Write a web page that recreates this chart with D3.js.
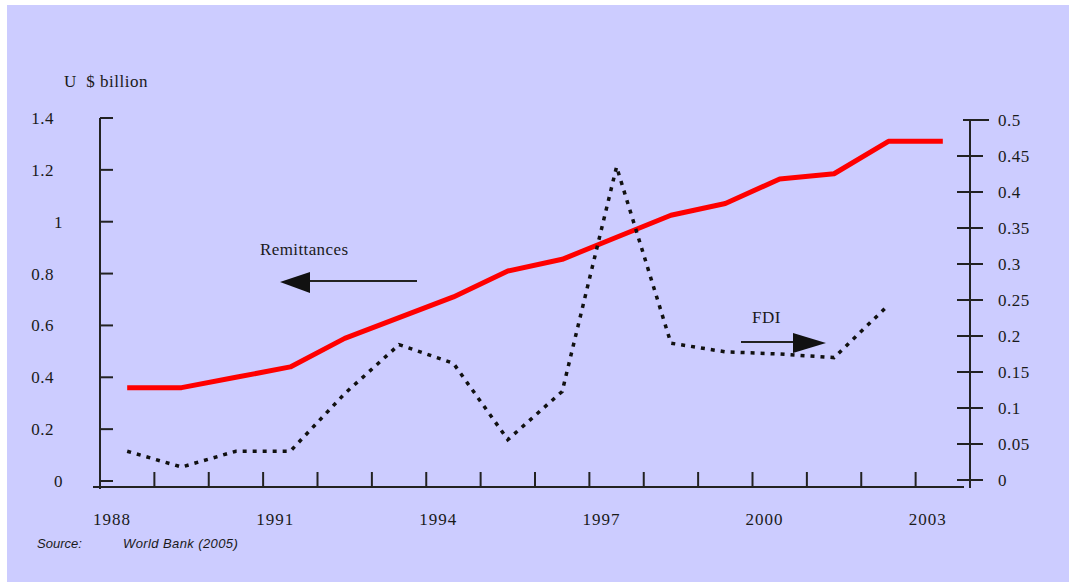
<!DOCTYPE html>
<html>
<head>
<meta charset="utf-8">
<script src="https://cdn.jsdelivr.net/npm/d3@7"></script>
<style>
  body { margin: 0; background: #fff; }
  text { font-family: "Liberation Serif", "Times New Roman", serif; fill: #1a1a1a; white-space: pre; }
  .src { font-family: "Liberation Sans", Arial, sans-serif; font-style: italic; font-size: 13px; }
</style>
</head>
<body>
<div id="chart"></div>
<script>
// data
var years = ["1988", "1989", "1990", "1991", "1992", "1993", "1994", "1995",
             "1996", "1997", "1998", "1999", "2000", "2001", "2002", "2003"];
var remittances = [0.36, 0.36, 0.40, 0.44, 0.55, 0.63, 0.71, 0.81,
                   0.855, 0.94, 1.025, 1.07, 1.165, 1.185, 1.31, 1.31];
var fdi = [0.04, 0.018, 0.04, 0.04, 0.12, 0.188, 0.162, 0.056,
           0.123, 0.435, 0.19, 0.178, 0.175, 0.17, 0.243, null];
var leftTicks = [0, 0.2, 0.4, 0.6, 0.8, 1, 1.2, 1.4];
var rightTicks = [0, 0.05, 0.1, 0.15, 0.2, 0.25, 0.3, 0.35, 0.4, 0.45, 0.5];
var yearLabels = ["1988", "1991", "1994", "1997", "2000", "2003"];

var width = 1069, height = 582;
var left = 100, right = 970;

var svg = d3.select("#chart").append("svg")
    .attr("width", width)
    .attr("height", height);

svg.append("rect")
    .attr("x", 7).attr("y", 5)
    .attr("width", width - 7).attr("height", height - 5)
    .attr("fill", "#ccccff");

/* Scales */
var xScale = d3.scaleBand().domain(years).range([left, right]).padding(0);
var yLeft = d3.scaleLinear().domain([0, 1.4]).range([481, 118]);
var yRight = d3.scaleLinear().domain([0, 0.5]).range([480, 120]);
var cx = d => xScale(d) + xScale.bandwidth() / 2;

var axisColor = "#222";

/* left axis */
svg.append("line")
    .attr("x1", left).attr("x2", left)
    .attr("y1", yLeft(1.4)).attr("y2", 489)
    .attr("stroke", axisColor).attr("stroke-width", 2);

svg.selectAll(".ltick").data(leftTicks).enter()
    .append("line")
    .attr("x1", left).attr("x2", left + 13)
    .attr("y1", d => yLeft(d)).attr("y2", d => yLeft(d))
    .attr("stroke", axisColor).attr("stroke-width", 2);

svg.selectAll(".llab").data(leftTicks).enter()
    .append("text")
    .attr("x", d => Number.isInteger(d) ? 63 : 54)
    .attr("y", d => yLeft(d) + 6)
    .attr("text-anchor", "end")
    .style("font-size", "17px")
    .style("letter-spacing", "0.5px")
    .text(d => d3.format("")(d));

/* right axis */
svg.append("line")
    .attr("x1", right).attr("x2", right)
    .attr("y1", yRight(0.5)).attr("y2", 488)
    .attr("stroke", axisColor).attr("stroke-width", 2);

svg.selectAll(".rtick").data(rightTicks).enter()
    .append("line")
    .attr("x1", d => d == 0.5 ? right - 7 : right - 13)
    .attr("x2", d => d == 0.5 ? right + 19 : right + 13)
    .attr("y1", d => yRight(d)).attr("y2", d => yRight(d))
    .attr("stroke", axisColor).attr("stroke-width", 2);

svg.selectAll(".rlab").data(rightTicks).enter()
    .append("text")
    .attr("x", 998)
    .attr("y", d => yRight(d) + 6)
    .style("font-size", "17px")
    .style("letter-spacing", "0.5px")
    .text(d => d3.format("")(d));

/* x axis */
var xAxisY = 487;
svg.append("line")
    .attr("x1", 93).attr("x2", 964)
    .attr("y1", xAxisY).attr("y2", xAxisY)
    .attr("stroke", axisColor).attr("stroke-width", 2);

svg.selectAll(".xtick").data(years).enter()
    .append("line")
    .attr("x1", d => xScale(d)).attr("x2", d => xScale(d))
    .attr("y1", xAxisY).attr("y2", xAxisY - 15)
    .attr("stroke", axisColor).attr("stroke-width", 2);

svg.selectAll(".xlab").data(yearLabels).enter()
    .append("text")
    .attr("x", d => xScale(d) + 12)
    .attr("y", 525)
    .attr("text-anchor", "middle")
    .style("font-size", "17px")
    .style("letter-spacing", "1px")
    .text(d => d);

/* lines */
var remLine = d3.line()
    .x((d, i) => cx(years[i]))
    .y(d => yLeft(d));

svg.append("path")
    .datum(remittances)
    .attr("d", remLine)
    .attr("fill", "none")
    .attr("stroke", "#ff0000")
    .attr("stroke-width", 5)
    .attr("stroke-linejoin", "round");

var fdiLine = d3.line()
    .defined(d => d != null)
    .x((d, i) => cx(years[i]))
    .y(d => yRight(d));

svg.append("path")
    .datum(fdi)
    .attr("d", fdiLine)
    .attr("fill", "none")
    .attr("stroke", "#111")
    .attr("stroke-width", 3.5)
    .attr("stroke-dasharray", "4,6");

/* labels and arrows */
svg.append("text")
    .attr("x", 64).attr("y", 87)
    .style("font-size", "17px")
    .style("letter-spacing", "0.5px")
    .text("U  $ billion");

svg.append("text")
    .attr("x", 260).attr("y", 255)
    .style("font-size", "17px")
    .style("letter-spacing", "0.4px")
    .text("Remittances");

svg.append("line")
    .attr("x1", 417).attr("x2", 305)
    .attr("y1", 281).attr("y2", 281)
    .attr("stroke", axisColor).attr("stroke-width", 2);
svg.append("path")
    .attr("d", "M280,282 L310,272 L310,293 Z")
    .attr("fill", "#111");

svg.append("text")
    .attr("x", 752).attr("y", 323)
    .style("font-size", "17px")
    .style("letter-spacing", "0.5px")
    .text("FDI");

svg.append("line")
    .attr("x1", 741).attr("x2", 800)
    .attr("y1", 342).attr("y2", 342)
    .attr("stroke", axisColor).attr("stroke-width", 2);
svg.append("path")
    .attr("d", "M826,343 L793,333 L793,353 Z")
    .attr("fill", "#111");

/* source */
svg.append("text").attr("class", "src")
    .attr("x", 37).attr("y", 548)
    .text("Source:");
svg.append("text").attr("class", "src")
    .attr("x", 123).attr("y", 548)
    .style("letter-spacing", "0.4px")
    .text("World Bank (2005)");
</script>
</body>
</html>
